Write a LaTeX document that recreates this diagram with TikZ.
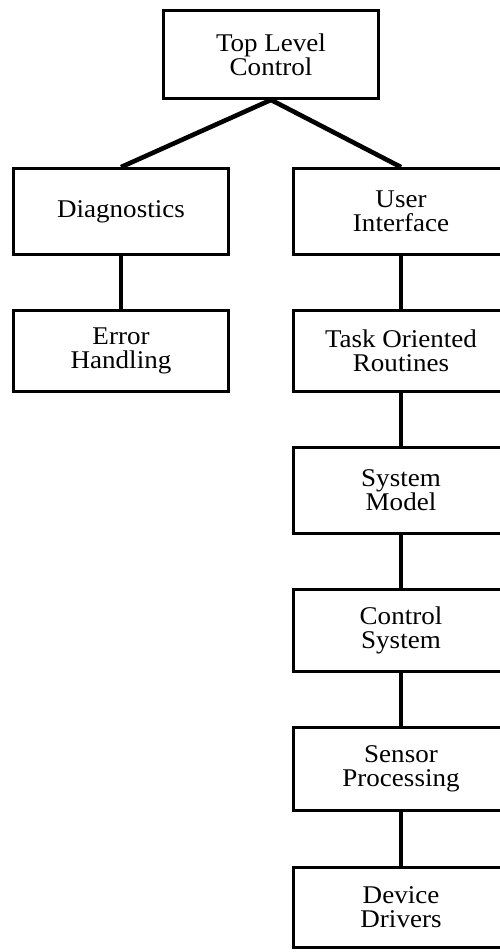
\documentclass[tikz,border=0pt]{standalone}
\usepackage{fontspec}
\setmainfont[FakeStretch=1.06]{Liberation Serif}
\begin{document}
\begin{tikzpicture}[x=1pt,y=-1pt,
  blk/.style={draw=black, line width=2.8pt, rectangle, minimum width=215pt,
    align=center, inner sep=0pt, font=\fontsize{25.5}{24}\selectfont},
  link/.style={draw=black, line width=3.4pt},
  slant/.style={draw=black, line width=4.6pt}]
\useasboundingbox (0,0) rectangle (499,952);
\node[blk, minimum height=88pt] (top)  at (271,54.5)  {Top Level\\Control};
\node[blk, minimum height=86pt] (diag) at (121,211.5) {Diagnostics};
\node[blk, minimum height=86pt] (ui)   at (401,211.5) {User\\Interface};
\node[blk, minimum height=81pt] (err)  at (121,351)   {Error\\Handling};
\node[blk, minimum height=81pt] (tor)  at (401,351)   {Task Oriented\\Routines};
\node[blk, minimum height=86pt] (sm)   at (401,490.5) {System\\Model};
\node[blk, minimum height=82pt] (cs)   at (401,630.5) {Control\\System};
\node[blk, minimum height=83pt] (sp)   at (401,769)   {Sensor\\Processing};
\node[blk, minimum height=80pt] (dd)   at (401,907.5) {Device\\Drivers};
\draw[slant] (top.south) -- (diag.north);
\draw[slant] (top.south) -- (ui.north);
\draw[link] (diag) -- (err);
\draw[link] (ui) -- (tor);
\draw[link] (tor) -- (sm);
\draw[link] (sm) -- (cs);
\draw[link] (cs) -- (sp);
\draw[link] (sp) -- (dd);
\end{tikzpicture}
\end{document}
